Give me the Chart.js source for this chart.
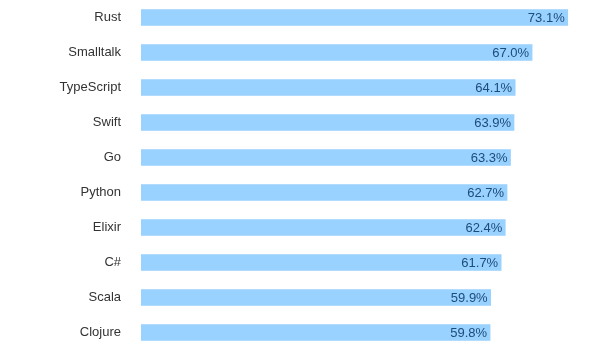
<!DOCTYPE html>
<html>
<head>
<meta charset="utf-8">
<script src="https://cdn.jsdelivr.net/npm/chart.js@4"></script>
<style>
  html, body { margin: 0; padding: 0; background: #fff; overflow: hidden; }
  canvas { display: block; }
</style>
</head>
<body>
<canvas id="chart" width="615" height="351"></canvas>
<script>
const languages = ["Rust", "Smalltalk", "TypeScript", "Swift", "Go", "Python", "Elixir", "C#", "Scala", "Clojure"];
const lovedPct = [73.1, 67.0, 64.1, 63.9, 63.3, 62.7, 62.4, 61.7, 59.9, 59.8];

// écrit la valeur à l'intérieur de la barre, côté droit
const valueLabels = {
    id: "valueLabels",
    afterDatasetsDraw(chart) {
        const ctx = chart.ctx;
        const meta = chart.getDatasetMeta(0);
        ctx.save();
        ctx.font = "13px 'Liberation Sans', Arial, sans-serif";
        ctx.fillStyle = "#1c4c7c";
        ctx.textAlign = "right";
        ctx.textBaseline = "middle";
        meta.data.forEach((bar, i) => {
            ctx.fillText(lovedPct[i].toFixed(1) + "%", bar.x - 3, bar.y + 1);
        });
        ctx.restore();
    },
};

var ctx = document.getElementById("chart").getContext("2d");
new Chart(ctx, {
    type: "bar",
    data: {
        labels: languages,
        datasets: [
            {
                data: lovedPct,
                backgroundColor: "#99d1ff",
                borderWidth: 0,
                barThickness: 16,
            },
        ],
    },
    options: {
        indexAxis: "y",
        responsive: false,
        animation: false,
        layout: { padding: { top: -1, bottom: 1, left: 0, right: 7 } },
        plugins: {
            legend: { display: false },
            tooltip: { enabled: false },
        },
        scales: {
            x: {
                display: false,
                min: 0,
                max: 80,
            },
            y: {
                grid: { display: false, drawTicks: false },
                border: { display: false },
                afterFit(scale) {
                    scale.width = 141;
                    scale.paddingTop = 0;
                    scale.paddingBottom = 0;
                },
                ticks: {
                    color: "#333333",
                    padding: 20,
                    font: { family: "'Liberation Sans', Arial, sans-serif", size: 13 },
                },
            },
        },
    },
    plugins: [valueLabels],
});
</script>
</body>
</html>
